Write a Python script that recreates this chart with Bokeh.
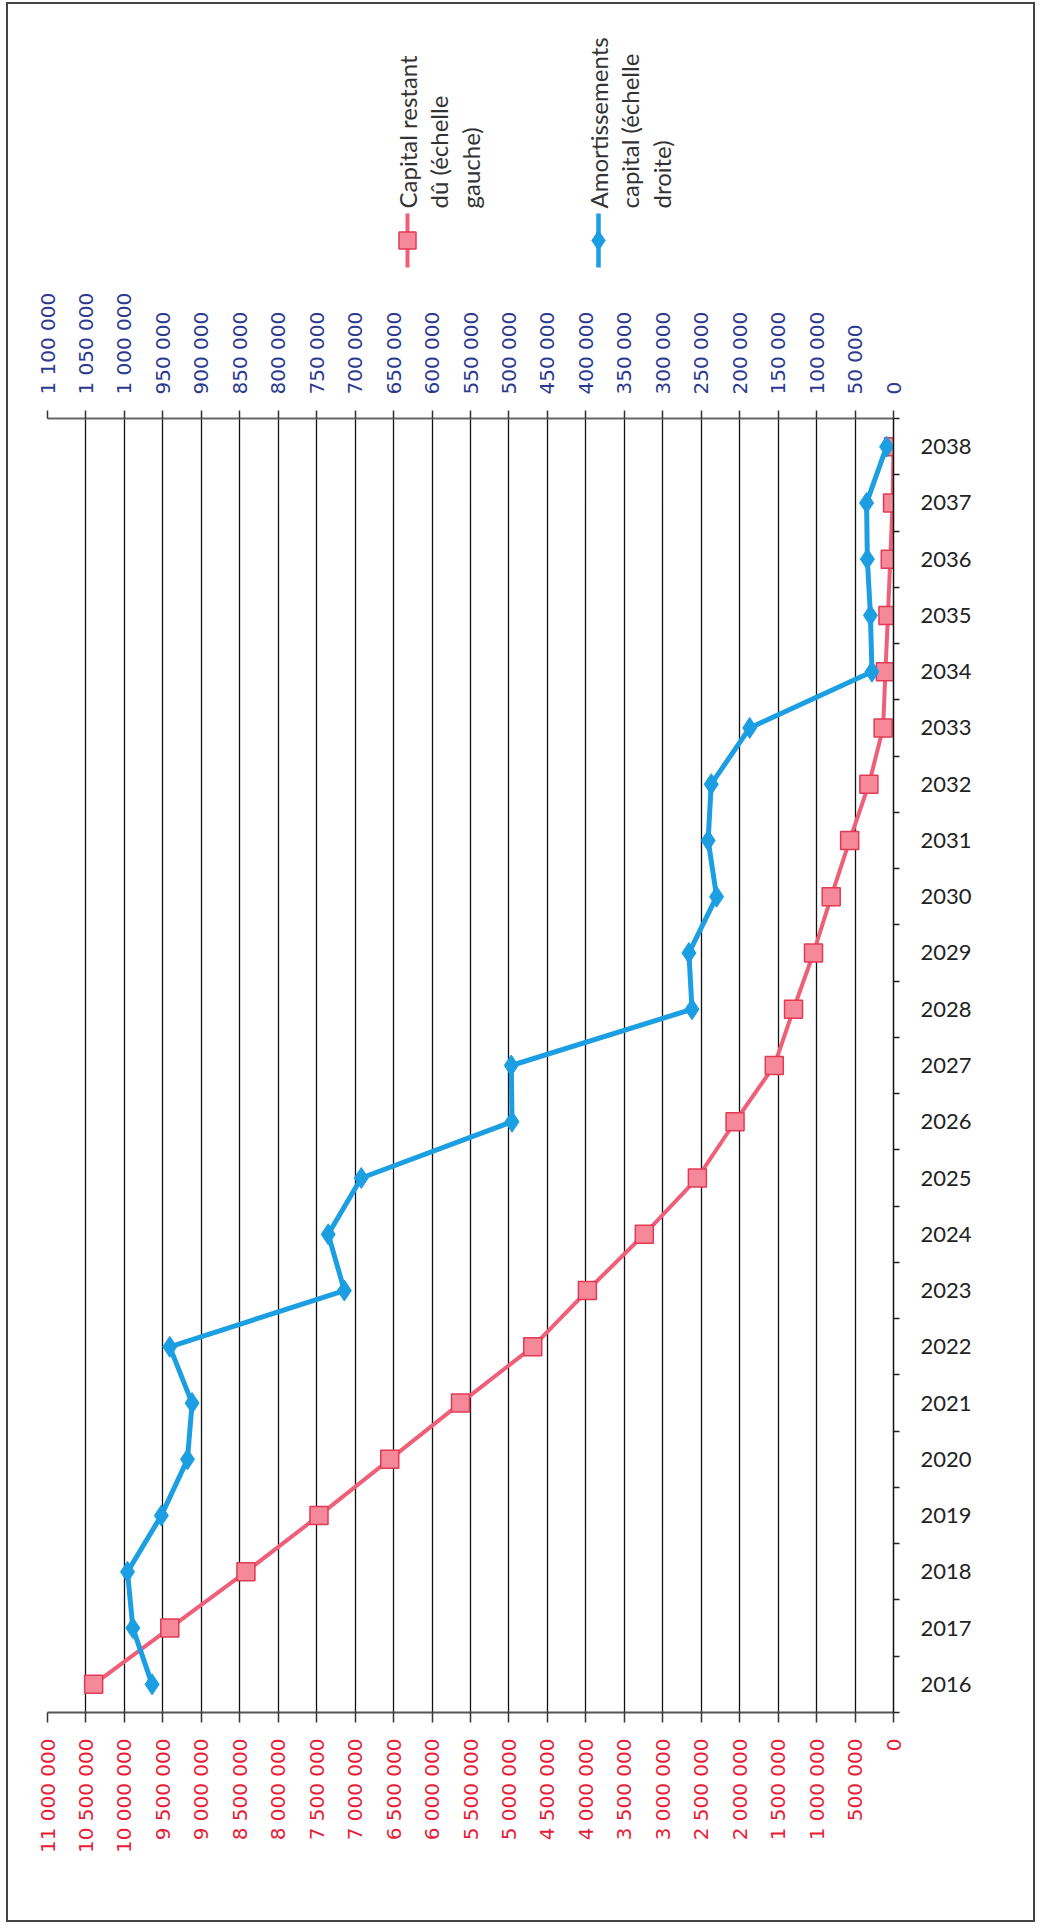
import math
from bokeh.plotting import figure
from bokeh.models import Range1d, LinearAxis, FixedTicker, Grid, ColumnDataSource
from bokeh.layouts import column
from bokeh.core.properties import value
from bokeh.embed import file_html
from bokeh.resources import INLINE

# ---- data ----
years = list(range(2016, 2039))
capital_restant = [10400000, 9410000, 8420000, 7470000, 6550000, 5630000, 4690000,
                   3980000, 3240000, 2550000, 2060000, 1550000, 1300000, 1040000,
                   810000, 570000, 320000, 135000, 105000, 72000, 42000, 12000, 0]
amortissements = [964000, 989000, 996000, 952000, 918000, 912000, 941000,
                  714000, 735000, 692000, 496000, 497000, 262000, 266000,
                  230000, 241000, 237000, 187000, 28000, 30000, 34000, 35000, 9000]
capital_ticks = [i * 500000 for i in range(23)]
amort_ticks = [i * 50000 for i in range(23)]
year_separators = [y - 0.5 for y in years] + [years[-1] + 0.5]
legend_capital = ["Capital restant", "dû (échelle", "gauche)"]
legend_amort = ["Amortissements", "capital (échelle", "droite)"]


def fmt(v):
    return f"{v:,}".replace(",", " ")


capital_tick_labels = {v: fmt(v) for v in capital_ticks}
amort_tick_labels = {v: fmt(v) for v in amort_ticks}

RED_LINE = "#EF5F78"
RED_FILL = "#F5899A"
RED_EDGE = "#E23A55"
BLUE = "#1C9FE2"
RED_TXT = "#E81C36"
BLUE_TXT = "#2B3990"

# layout (page pixels): content box starts at x0, y0 inside the border
X0, Y0 = 8, 4
W = 1025
BL, BR = 39, 140
LEG_H = 270
MAIN_H = 1646
MBT, MBB = 144, 208

# ---- legend panel (coordinates in page pixels) ----
leg = figure(width=W, height=LEG_H,
             x_range=Range1d(X0 + BL, X0 + W - BR), y_range=Range1d(Y0 + LEG_H, Y0),
             output_backend="svg", toolbar_location=None,
             min_border_left=BL, min_border_right=BR, min_border_top=0, min_border_bottom=0,
             x_axis_location=None, y_axis_location=None, outline_line_color=None)
leg.xgrid.visible = False
leg.ygrid.visible = False
leg.segment(x0=[407], y0=[213], x1=[407], y1=[267], line_color=RED_LINE, line_width=4)
leg.scatter(x=[407], y=[240], marker="square", size=17, fill_color=RED_FILL,
            line_color=RED_EDGE, line_width=1.5)
leg.segment(x0=[598], y0=[213], x1=[598], y1=[267], line_color=BLUE, line_width=4.5)
leg.scatter(x=[598], y=[240], marker="diamond", size=20, fill_color=BLUE,
            line_color=BLUE, line_width=1)
leg.text(x=[407, 438, 470], y=[208, 208, 208], text=legend_capital, angle=math.pi / 2,
         text_align="left", text_baseline="middle", text_font=value("Lato"),
         text_font_size="24px", text_color="#333333")
leg.text(x=[598, 629, 661], y=[208, 208, 208], text=legend_amort, angle=math.pi / 2,
         text_align="left", text_baseline="middle", text_font=value("Lato"),
         text_font_size="24px", text_color="#333333")

# ---- main chart ----
p = figure(width=W, height=MAIN_H,
           x_range=Range1d(11000000, 0), y_range=Range1d(2015.5, 2038.5),
           output_backend="svg", toolbar_location=None,
           x_axis_location=None, y_axis_location=None,
           min_border_left=BL, min_border_right=BR, min_border_top=MBT,
           min_border_bottom=MBB, outline_line_color=None)
p.xgrid.visible = False
p.ygrid.visible = False
p.extra_x_ranges = {"amort": Range1d(1100000, 0)}

grid = Grid(dimension=0, ticker=FixedTicker(ticks=capital_ticks),
            grid_line_color="#111111", grid_line_width=1.3)
p.add_layout(grid)

ax_b = LinearAxis(ticker=FixedTicker(ticks=capital_ticks),
                  major_label_overrides=capital_tick_labels,
                  major_label_orientation=math.pi / 2,
                  major_label_text_font="DejaVu Sans",
                  major_label_text_font_size="20px",
                  major_label_text_color=RED_TXT,
                  major_label_standoff=16,
                  axis_line_color="#555555", axis_line_width=2,
                  major_tick_line_color="#333333", major_tick_line_width=1.5,
                  major_tick_out=10, major_tick_in=0,
                  minor_tick_line_color=None)
p.add_layout(ax_b, "below")

ax_t = LinearAxis(x_range_name="amort", ticker=FixedTicker(ticks=amort_ticks),
                  major_label_overrides=amort_tick_labels,
                  major_label_orientation=math.pi / 2,
                  major_label_text_font="DejaVu Sans",
                  major_label_text_font_size="20px",
                  major_label_text_color=BLUE_TXT,
                  major_label_standoff=16,
                  axis_line_color="#666666", axis_line_width=2,
                  major_tick_line_color="#333333", major_tick_line_width=1.5,
                  major_tick_out=8, major_tick_in=0,
                  minor_tick_line_color=None)
p.add_layout(ax_t, "above")

ax_r = LinearAxis(ticker=FixedTicker(ticks=years, minor_ticks=year_separators),
                  major_label_text_font="Lato",
                  major_label_text_font_size="22px",
                  major_label_text_color="#222222",
                  major_label_standoff=21,
                  axis_line_color="#111111", axis_line_width=1.5,
                  major_tick_line_color=None, major_tick_out=0, major_tick_in=0,
                  minor_tick_line_color="#222222", minor_tick_line_width=1.5,
                  minor_tick_out=6, minor_tick_in=0)
p.add_layout(ax_r, "right")

src = ColumnDataSource(dict(year=years, capital=capital_restant, amort=amortissements))

p.line(x="capital", y="year", source=src, line_color=RED_LINE, line_width=4)
p.scatter(x="capital", y="year", source=src, marker="square", size=18,
          fill_color=RED_FILL, line_color=RED_EDGE, line_width=1.5)
p.line(x="amort", y="year", source=src, x_range_name="amort",
       line_color=BLUE, line_width=5)
p.scatter(x="amort", y="year", source=src, x_range_name="amort", marker="diamond",
          size=21, fill_color=BLUE, line_color=BLUE, line_width=1)

layout = column(leg, p, spacing=0, margin=(2, 0, 0, 6),
                styles={"border": "2px solid #444444"})

open("out.html", "w").write(file_html(layout, INLINE))
